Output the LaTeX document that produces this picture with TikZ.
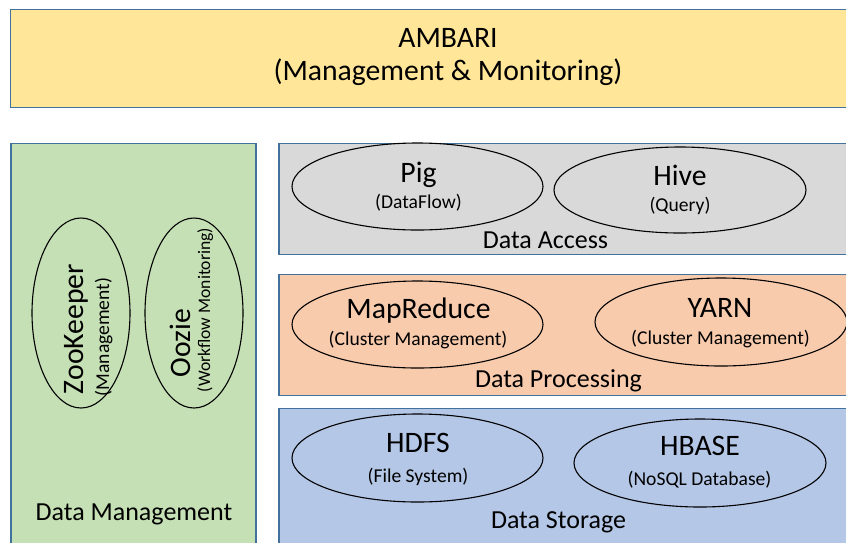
\documentclass[tikz,border=0pt]{standalone}
\usepackage{fontspec}
\setmainfont{Carlito}
\usepackage{tikz}
\usetikzlibrary{shapes.geometric}

\definecolor{boxline}{HTML}{41719C}
\definecolor{ambari}{HTML}{FFE699}
\definecolor{mgmt}{HTML}{C5E0B4}
\definecolor{access}{HTML}{D9D9D9}
\definecolor{process}{HTML}{F8CBAD}
\definecolor{storage}{HTML}{B4C7E7}

\begin{document}
\begin{tikzpicture}[x=1pt,y=-1pt,
  layer/.style={draw=boxline, line width=1.5pt},
  comp/.style={ellipse, draw=black, line width=1.1pt, inner sep=0pt},
  big/.style={anchor=base, inner sep=0pt, font=\fontsize{29.7}{32}\selectfont},
  mid/.style={anchor=base, inner sep=0pt, font=\fontsize{26}{28}\selectfont},
  small/.style={anchor=base, inner sep=0pt, font=\fontsize{19.6}{22}\selectfont}]
\clip (0,0) rectangle (846,542);
% layers
\draw[layer, fill=ambari] (10.5,9.5) rectangle (870,107.5);
\draw[layer, fill=mgmt] (11,143.5) rectangle (256,570);
\draw[layer, fill=access] (279,143.5) rectangle (870,254.5);
\draw[layer, fill=process] (279,274.5) rectangle (870,395.5);
\draw[layer, fill=storage] (279,408.5) rectangle (870,570);
\node[big] (ambari) at (448,47) {AMBARI};
\node[big] (ambarisub) at (448,80) {(Management \& Monitoring)};
% data management
\node[comp, fill=mgmt, minimum width=98, minimum height=190] (zk) at (81,313) {};
\node[comp, fill=mgmt, minimum width=98, minimum height=190] (oozie) at (194,313) {};
\node[big, rotate=90] (zkT) at (83,329) {ZooKeeper};
\node[small, rotate=90] (zkS) at (109,337) {(Management)};
\node[big, rotate=90] (oozieT) at (190,343) {Oozie};
\node[small, rotate=90, font=\fontsize{17.6}{20}\selectfont] (oozieS) at (210,310) {(Workflow Monitoring)};
\node[mid] (mgmtL) at (134,520) {Data Management};
% data access
\node[comp, fill=access, minimum width=251, minimum height=87] (pig) at (417.5,186.5) {};
\node[comp, fill=access, minimum width=252, minimum height=86] (hive) at (680,190) {};
\node[big] (pigT) at (418.5,182) {Pig};
\node[small] (pigS) at (418.5,208) {(DataFlow)};
\node[big] (hiveT) at (680,185.5) {Hive};
\node[small] (hiveS) at (680,211.5) {(Query)};
\node[mid] (accessL) at (545.5,248) {Data Access};
% data processing
\node[comp, fill=process, minimum width=251, minimum height=87] (mr) at (417.5,324.5) {};
\node[comp, fill=process, minimum width=252, minimum height=88] (yarn) at (721,322) {};
\node[big] (mrT) at (418.5,318) {MapReduce};
\node[small] (mrS) at (418,345) {(Cluster Management)};
\node[big] (yarnT) at (720,317) {YARN};
\node[small] (yarnS) at (720.5,344) {(Cluster Management)};
\node[mid] (processL) at (558.5,387) {Data Processing};
% data storage
\node[comp, fill=storage, minimum width=251, minimum height=88] (hdfs) at (417.5,458) {};
\node[comp, fill=storage, minimum width=252, minimum height=88] (hbase) at (700,463) {};
\node[big] (hdfsT) at (418,452) {HDFS};
\node[small] (hdfsS) at (418,482) {(File System)};
\node[big] (hbaseT) at (700,455) {HBASE};
\node[small] (hbaseS) at (699.5,485) {(NoSQL Database)};
\node[mid] (storageL) at (558.5,528) {Data Storage};
\end{tikzpicture}
\end{document}
